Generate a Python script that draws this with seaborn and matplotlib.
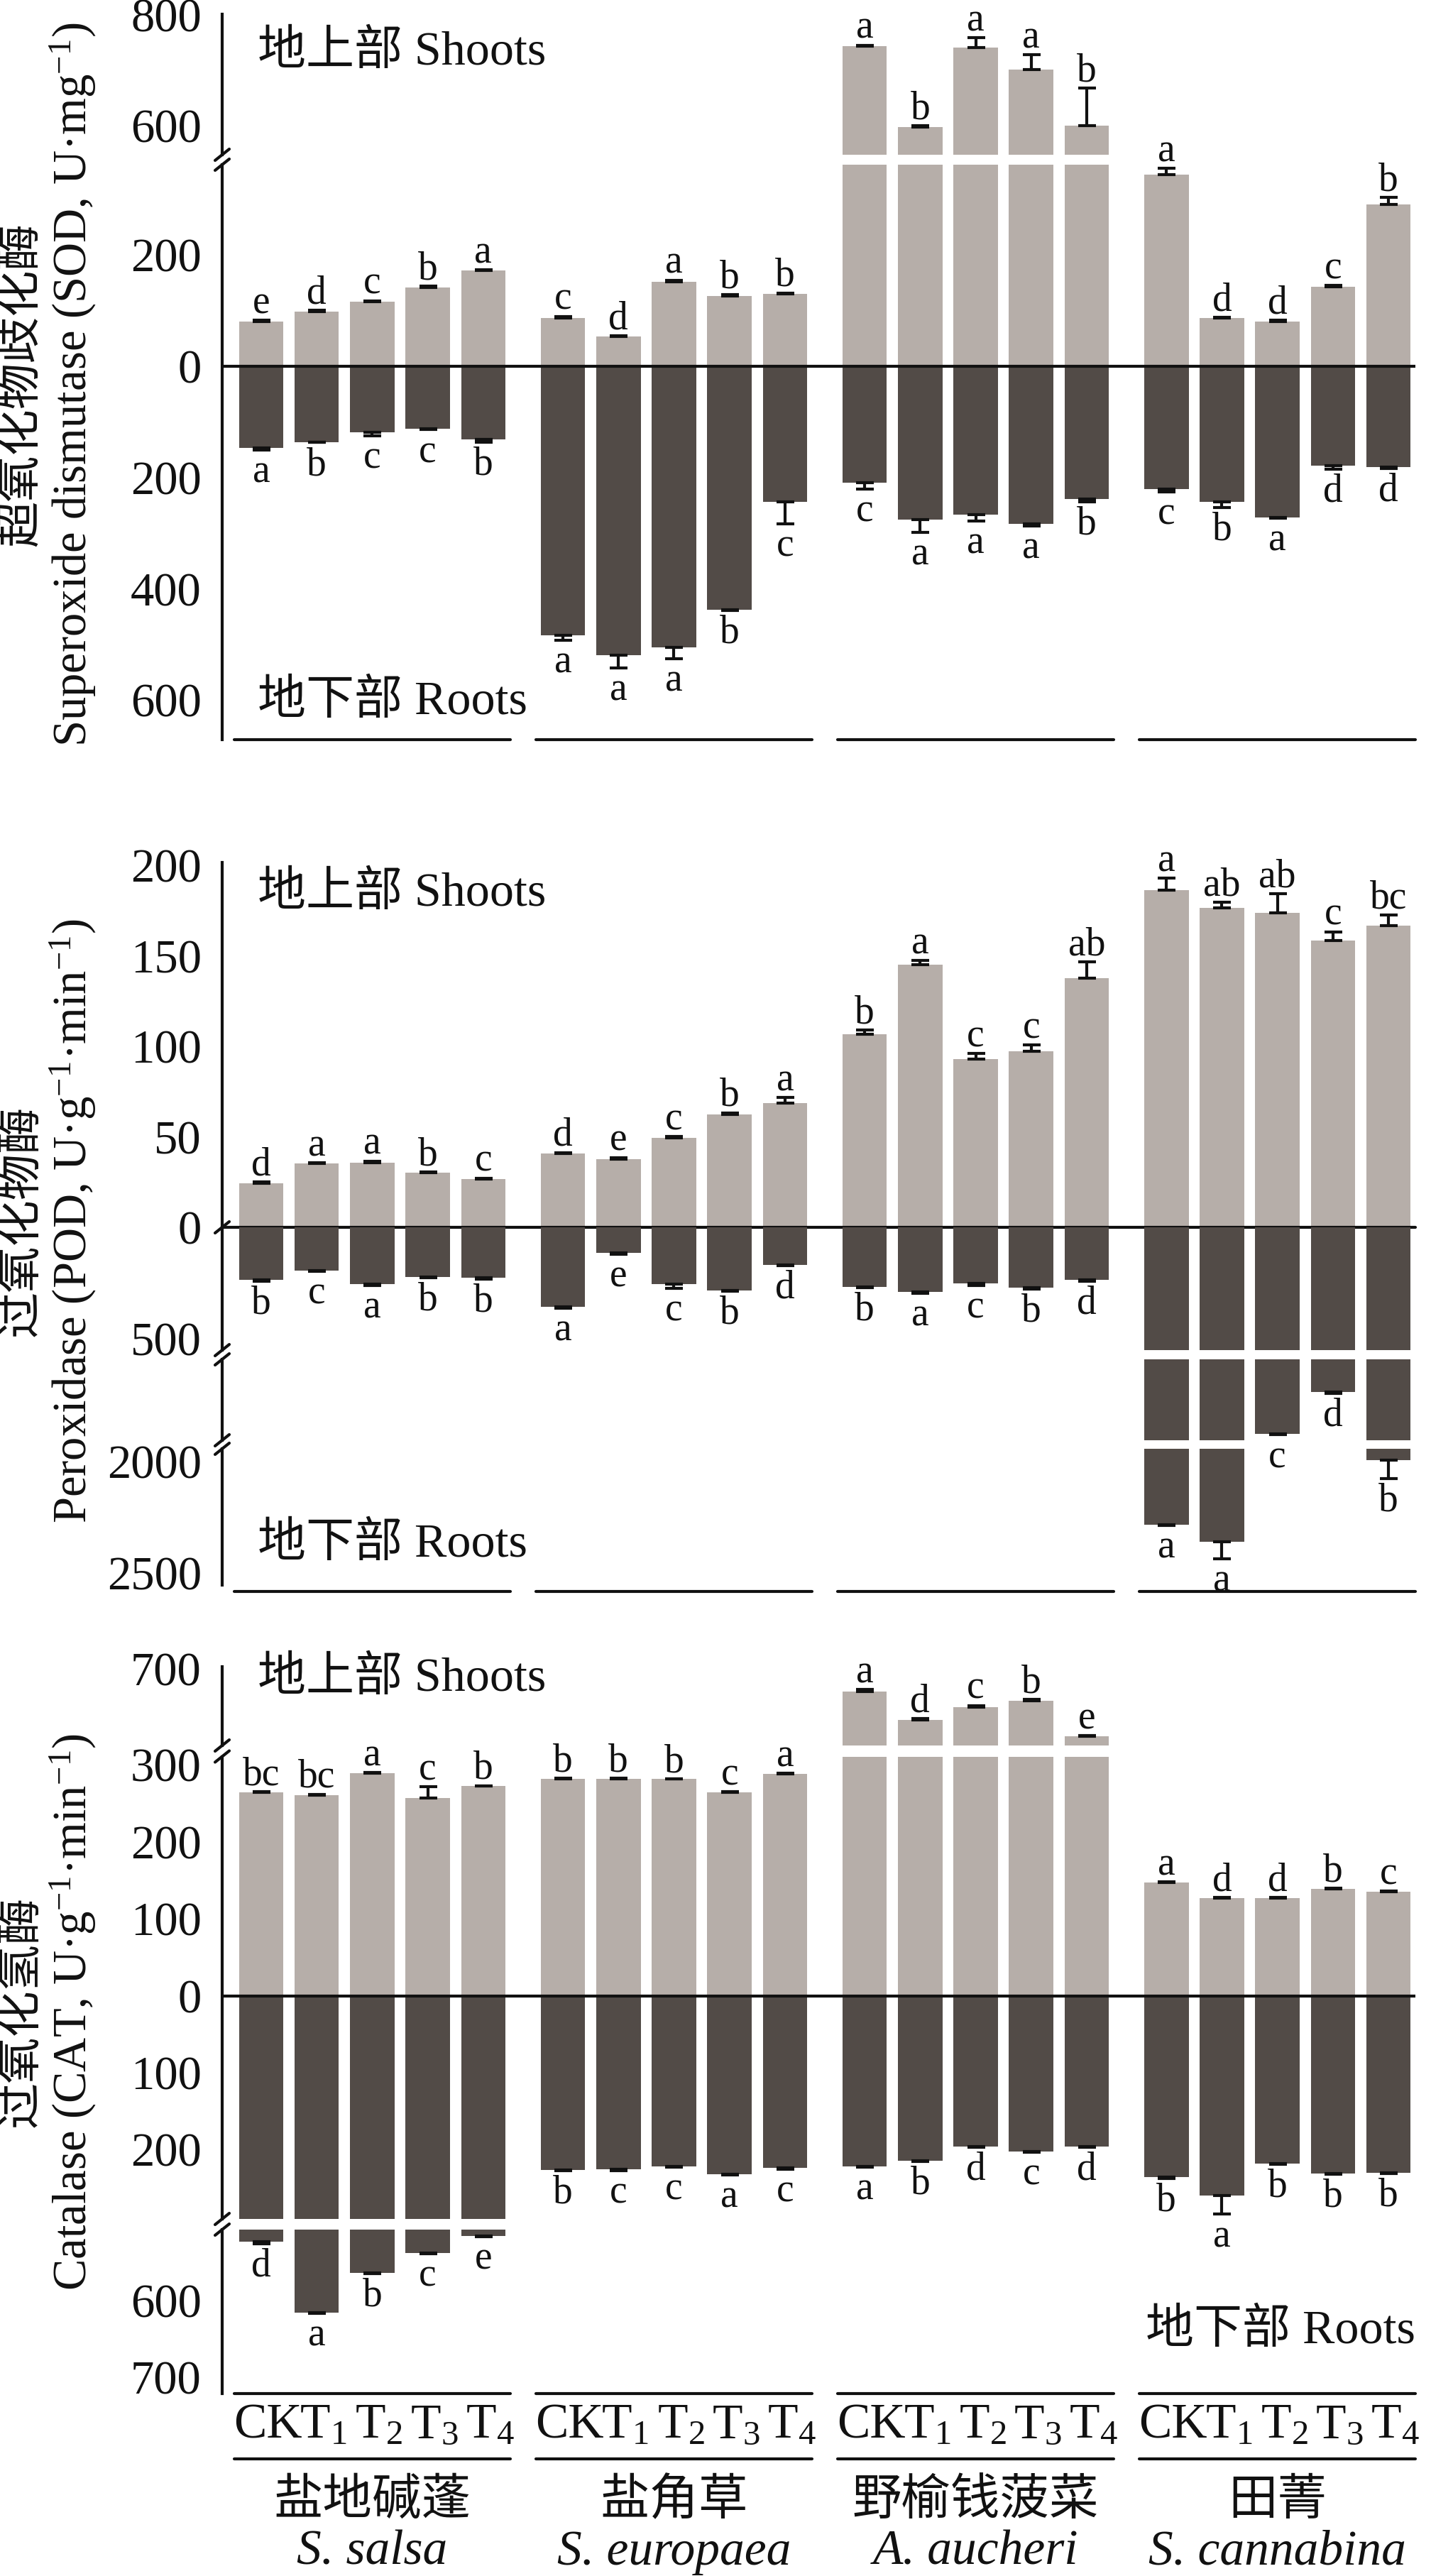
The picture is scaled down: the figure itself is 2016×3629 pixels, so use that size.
import numpy as np
import pandas as pd
import seaborn as sns
import matplotlib.pyplot as plt
from matplotlib.lines import Line2D
from matplotlib import transforms

sns.set_style("white")
plt.rcParams["font.family"] = ["Liberation Serif", "Noto Sans CJK SC"]
plt.rcParams["mathtext.fontset"] = "custom"
plt.rcParams["mathtext.rm"] = "Liberation Serif"
plt.rcParams["mathtext.it"] = "Liberation Serif:italic"

# ---------------- data ----------------
species_cn = ["盐地碱蓬", "盐角草", "野榆钱菠菜", "田菁"]
species_la = ["S. salsa", "S. europaea", "A. aucheri", "S. cannabina"]
treatments = ["CK", "T$_1$", "T$_2$", "T$_3$", "T$_4$"]

# SOD (U·mg-1), order: salsa, europaea, aucheri, cannabina x CK,T1..T4
sod_shoot = [81, 99, 116, 142, 172,  87, 54, 152, 127, 130,
             743, 597, 741, 701, 600,  345, 87, 81, 143, 291]
sod_shoot_err = [2, 2, 2, 2, 2,  3, 1, 3, 2, 2,
                 2, 2, 18, 27, 67,  11, 1, 2, 2, 13]
sod_shoot_lab = ["e", "d", "c", "b", "a",  "c", "d", "a", "b", "b",
                 "a", "b", "a", "a", "b",  "a", "d", "d", "c", "b"]
sod_root = [146, 136, 119, 112, 131,  483, 519, 505, 437, 244,
            209, 275, 266, 283, 238,  220, 244, 272, 179, 181]
sod_root_err = [4, 1, 6, 2, 5,  9, 23, 20, 2, 39,
                11, 23, 12, 4, 6,  6, 10, 1, 6, 2]
sod_root_lab = ["a", "b", "c", "c", "b",  "a", "a", "a", "b", "c",
                "c", "a", "a", "a", "b",  "c", "b", "a", "d", "d"]

# POD (U·g-1·min-1)
pod_shoot = [24.4, 35.2, 35.8, 30.1, 26.6,  40.7, 37.8, 49.6, 62.5, 68.8,
             106.6, 145.0, 92.8, 97.1, 137.5,  186.2, 176.5, 173.9, 158.4, 166.5]
pod_shoot_err = [0.6, 0.6, 0.8, 0.6, 0.6,  0.6, 0.8, 0.6, 0.8, 2.8,
                 2.3, 2.5, 3.2, 3.7, 9.2,  6.6, 3.1, 10.3, 4.9, 6.0]
pod_shoot_lab = ["d", "a", "a", "b", "c",  "d", "e", "c", "b", "a",
                 "b", "a", "c", "c", "ab",  "a", "ab", "ab", "c", "bc"]
pod_root = [237, 193, 256, 223, 226,  358, 116, 256, 284, 168,
            267, 291, 251, 272, 237,  2283, 2359, 1334, 1146, 1994]
pod_root_err = [4, 4, 4, 4, 5,  4, 4, 18, 4, 4,
                4, 4, 9, 4, 4,  5, 78, 5, 6, 82]
pod_root_lab = ["b", "c", "a", "b", "b",  "a", "e", "c", "b", "d",
                "b", "a", "c", "b", "d",  "a", "a", "c", "d", "b"]

# CAT (U·g-1·min-1)
cat_shoot = [264, 261, 289, 257, 273,  282, 282, 282, 264, 288,
             670, 633, 650, 658, 612,  147, 127, 127, 139, 135]
cat_shoot_err = [1, 1, 1, 15, 0,  1, 1, 0, 1, 1,
                 3, 2, 2, 2, 1,  1, 1, 1, 1, 1]
cat_shoot_lab = ["bc", "bc", "a", "c", "b",  "b", "b", "b", "c", "a",
                 "a", "d", "c", "b", "e",  "a", "d", "d", "b", "c"]
cat_root = [524, 616, 564, 538, 516,  226, 225, 222, 232, 224,
            222, 214, 196, 202, 196,  236, 260, 218, 231, 230]
cat_root_err = [2, 1, 1, 1, 1,  1, 2, 1, 1, 1,
                1, 1, 1, 1, 1,  1, 24, 1, 1, 1]
cat_root_lab = ["d", "a", "b", "c", "e",  "b", "c", "c", "a", "c",
                "a", "b", "d", "c", "d",  "b", "a", "b", "b", "b"]

# ---------------- layout ----------------
W, H = 2016, 3629
AX_L, AX_R = 313, 1994
GROUP_PITCH = 5.435
XLIM = (-0.703, 20.79)
SHOOT_COLOR = "#B6AEA9"
ROOT_COLOR = "#524B47"
INK = "#111111"
LW = 3

pos = np.array([g * GROUP_PITCH + i for g in range(4) for i in range(5)])

fig = plt.figure(figsize=(W / 100, H / 100), dpi=100)


def fy(y):
    return 1 - y / H


def make_df(shoot, root):
    return pd.DataFrame({
        "pos": np.concatenate([pos, pos]),
        "val": np.concatenate([np.array(shoot, float), -np.array(root, float)]),
        "part": ["shoot"] * 20 + ["root"] * 20,
    })


def slash(y):
    x0, x1 = (AX_L - 10) / W, (AX_L + 10) / W
    fig.add_artist(Line2D([x0, x1], [fy(y + 8), fy(y - 8)], color=INK, lw=LW,
                          transform=fig.transFigure))


def draw_panel(shoot, shoot_err, shoot_lab, root, root_err, root_lab, segs):
    df = make_df(shoot, root)
    axes = []
    for top, bottom, ylim, ticks in segs:
        ax = fig.add_axes([AX_L / W, fy(bottom), (AX_R - AX_L) / W, (bottom - top) / H])
        sns.barplot(data=df, x="pos", y="val", hue="part", native_scale=True,
                    palette={"shoot": SHOOT_COLOR, "root": ROOT_COLOR},
                    hue_order=["shoot", "root"], dodge=False, width=0.8,
                    errorbar=None, saturation=1, linewidth=0, legend=False, ax=ax)
        ax.errorbar(pos, shoot, yerr=[np.zeros(20), shoot_err], fmt="none",
                    ecolor=INK, elinewidth=LW, capsize=9, capthick=LW)
        ax.errorbar(pos, -np.array(root, float), yerr=[root_err, np.zeros(20)],
                    fmt="none", ecolor=INK, elinewidth=LW, capsize=9, capthick=LW)
        ax.set_xlim(*XLIM)
        ax.set_ylim(*ylim)
        ax.set_yticks(ticks, [f"{abs(t):g}" for t in ticks])
        ax.tick_params(axis="y", direction="in", length=12, width=LW,
                       labelsize=48, pad=21, colors=INK)
        ax.tick_params(axis="x", bottom=False, labelbottom=False)
        ax.set_xlabel("")
        ax.set_ylabel("")
        for s in ["top", "right", "bottom"]:
            ax.spines[s].set_visible(False)
        ax.spines["left"].set_linewidth(LW)
        ax.spines["left"].set_color(INK)
        ax.patch.set_alpha(0)
        axes.append(ax)

    def find_ax(v):
        for ax, (_, _, ylim, _) in zip(axes, segs):
            if ylim[0] <= v <= ylim[1]:
                return ax
        return axes[-1]

    for k in range(20):
        tip = shoot[k] + shoot_err[k]
        find_ax(tip).annotate(shoot_lab[k], (pos[k], tip), xytext=(0, 7),
                              textcoords="offset points", ha="center",
                              va="baseline", fontsize=40, color=INK)
        tip = -(root[k] + root_err[k])
        find_ax(tip).annotate(root_lab[k], (pos[k], tip), xytext=(0, -4),
                              textcoords="offset points", ha="center",
                              va="top", fontsize=40, color=INK)
    return axes


def underline(ax, y):
    tr = transforms.blended_transform_factory(ax.transData, fig.transFigure)
    for g in range(4):
        x0 = g * GROUP_PITCH - 0.49
        x1 = g * GROUP_PITCH + 4.49
        fig.add_artist(Line2D([x0, x1], [fy(y), fy(y)], color=INK, lw=LW, transform=tr))


def ylabel(cn, en, y):
    fig.text(29 / W, fy(y), cn, rotation=90, ha="center", va="center",
             fontsize=47, color=INK, family=["Noto Sans CJK SC"])
    fig.text(103 / W, fy(y), en, rotation=90, ha="center", va="center",
             fontsize=48, color=INK)


def part_label(text, x, y, ha="left"):
    fig.text(x / W, fy(y), text, ha=ha, va="center", fontsize=49, color=INK)


# ---------------- SOD ----------------
sod_axes = draw_panel(sod_shoot, sod_shoot_err, sod_shoot_lab,
                      sod_root, sod_root_err, sod_root_lab,
                      [(20, 218, (547, 801), [600, 800]),
                       (232, 1042, (-671, 362.5), [-600, -400, -200, 0, 200])])
sod_axes[1].axhline(0, color=INK, lw=LW)
slash(218)
slash(232)
underline(sod_axes[1], 1042)
part_label("地上部 Shoots", 363, 74)
part_label("地下部 Roots", 363, 989)
ylabel("超氧化物歧化酶", "Superoxide dismutase (SOD, U·mg$^{-1}$)", 542)

# ---------------- POD ----------------
pod_axes = draw_panel(pod_shoot, pod_shoot_err, pod_shoot_lab,
                      pod_root, pod_root_err, pod_root_lab,
                      [(1215, 1729, (0, 201.6), [0, 50, 100, 150, 200]),
                       (1729, 1902, (-551, 0), [-500]),
                       (1915, 2029, (-1363, -1000), []),
                       (2041, 2233, (-2554, -1943), [-2000, -2500])])
pod_axes[0].axhline(0, color=INK, lw=LW, clip_on=False)
for y in [1729, 1902, 1915, 2029, 2041]:
    slash(y)
underline(pod_axes[-1], 2242)
part_label("地上部 Shoots", 363, 1259)
part_label("地下部 Roots", 363, 2176)
ylabel("过氧化物酶", "Peroxidase (POD, U·g$^{-1}$·min$^{-1}$)", 1720)

# ---------------- CAT ----------------
cat_axes = draw_panel(cat_shoot, cat_shoot_err, cat_shoot_lab,
                      cat_root, cat_root_err, cat_root_lab,
                      [(2348, 2459, (600, 702.4), [700]),
                       (2474.5, 3126, (-290, 311), [-200, -100, 0, 100, 200, 300]),
                       (3141, 3372, (-721, -508), [-600, -700])])
cat_axes[1].axhline(0, color=INK, lw=LW)
for y in [2459, 2474.5, 3126, 3141]:
    slash(y)
underline(cat_axes[-1], 3372)
underline(cat_axes[-1], 3464)
part_label("地上部 Shoots", 363, 2365)
part_label("地下部 Roots", 1994, 3284, ha="right")
ylabel("过氧化氢酶", "Catalase (CAT, U·g$^{-1}$·min$^{-1}$)", 2834)

# x labels
bottom_ax = cat_axes[-1]
tr = transforms.blended_transform_factory(bottom_ax.transData, fig.transFigure)
for k in range(20):
    fig.text(pos[k] + 0.12, fy(3418), treatments[k % 5], transform=tr,
             ha="center", va="center", fontsize=50, color=INK)
for g in range(4):
    cx = g * GROUP_PITCH + 2
    fig.text(cx, fy(3522), species_cn[g], transform=tr, ha="center", va="center",
             fontsize=50, color=INK, family=["Noto Sans CJK SC"])
    fig.text(cx, fy(3596), species_la[g], transform=tr, ha="center", va="center",
             fontsize=50, color=INK, style="italic")

fig.savefig("out.png", dpi=100, facecolor="white")
